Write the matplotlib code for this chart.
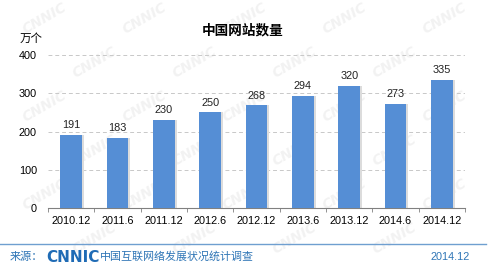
import matplotlib
matplotlib.use("Agg")
import matplotlib.pyplot as plt

plt.rcParams["font.family"] = ["Liberation Sans", "Noto Sans CJK SC", "DejaVu Sans"]

periods = ["2010.12", "2011.6", "2011.12", "2012.6", "2012.12",
           "2013.6", "2013.12", "2014.6", "2014.12"]
sites = [191, 183, 230, 250, 268, 294, 320, 273, 335]
yticks = [0, 100, 200, 300, 400]

BAR = "#558ed5"
FOOT = "#2e75b6"

fig = plt.figure(figsize=(4.91, 2.71), dpi=100)
W, H = 491, 271

# faint CNNIC watermark tiled across the background (kept inside the canvas)
for row in range(6):
    for col in range(5):
        x = 45 + col * 100 + (row % 2) * 50
        y = 18 + row * 44
        if x > 450:
            continue
        fig.text(x / W, 1 - y / H, "CNNIC", fontsize=10, fontweight="bold",
                 style="italic", color="#f2f2f2", rotation=30,
                 ha="center", va="center", zorder=-5, family="DejaVu Sans")

ax = fig.add_axes([48 / W, 1 - 208 / H, 417 / W, 153 / H])
ax.set_facecolor("none")
x = range(len(periods))
# soft shadow to the right of each bar
ax.bar([i + 0.04 for i in x], sites, width=0.48, color="#dcdcdc", zorder=2)
bars = ax.bar(x, sites, width=0.47, color=BAR, zorder=3)
for b, v in zip(bars, sites):
    ax.text(b.get_x() + b.get_width() / 2, v + 12, str(v), ha="center",
            va="bottom", fontsize=7.8, color="#222222")

ax.set_xlim(-0.5, len(periods) - 0.5)
ax.set_ylim(0, 400)
ax.set_yticks(yticks)
ax.tick_params(axis="y", length=0, labelsize=7.8, pad=8)
ax.set_xticks(x)
ax.set_xticklabels(periods)
ax.set_xticks([i - 0.5 for i in range(len(periods) + 1)], minor=True)
ax.tick_params(axis="x", which="major", length=0, labelsize=7.8, pad=6)
ax.tick_params(axis="x", which="minor", length=3, color="#808080")
ax.grid(axis="y", linestyle=(0, (4, 3)), color="#c8c8c8", linewidth=0.7, zorder=1)
for s in ("top", "right", "left"):
    ax.spines[s].set_visible(False)
ax.spines["bottom"].set_color("#808080")

fig.text(243 / W, 1 - 30 / H, "中国网站数量", ha="center", va="center",
         fontsize=9.8, fontweight="bold")
fig.text(20 / W, 1 - 39 / H, "万个", ha="left", va="center", fontsize=8.3)

# footer
fig.add_artist(plt.Line2D([0, 486 / W], [1 - 244 / H] * 2, color="#6f9fd0",
                          linewidth=1, transform=fig.transFigure))
fig.text(10 / W, 1 - 257 / H, "来源：", ha="left", va="center",
         fontsize=8, color=FOOT)
fig.text(46 / W, 1 - 257 / H, "CNNIC", ha="left", va="center", fontsize=11,
         fontweight="bold", color="#1f6bb5", family="DejaVu Sans")
fig.text(100 / W, 1 - 257 / H, "中国互联网络发展状况统计调查", ha="left",
         va="center", fontsize=7.9, color=FOOT)
fig.text(470 / W, 1 - 257 / H, "2014.12", ha="right", va="center",
         fontsize=7.8, color=FOOT)

fig.savefig("out.png", dpi=100)
